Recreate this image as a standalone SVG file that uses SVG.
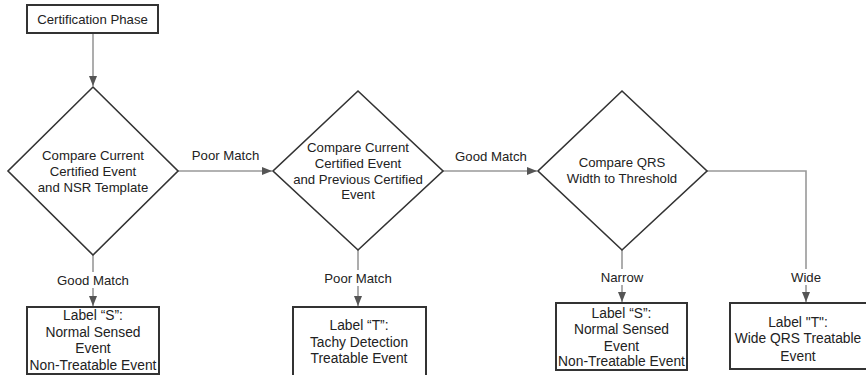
<svg xmlns="http://www.w3.org/2000/svg" width="866" height="375" viewBox="0 0 866 375">
<style>
.box{fill:#fff;stroke:#333;stroke-width:2}
.dia{fill:#fff;stroke:#333;stroke-width:1.6}
.con{fill:none;stroke:#999;stroke-width:1.6}
text{font-family:"Liberation Sans",Arial,sans-serif;fill:#222;text-anchor:middle}
.t{font-size:13.2px}
.b{font-size:13.8px}
.lbl{font-size:13.2px}
.bg{fill:#fff}
</style>
<defs>
<marker id="ah" markerUnits="userSpaceOnUse" markerWidth="10" markerHeight="10" viewBox="0 0 10 10" refX="10" refY="5" orient="auto">
<path d="M0,1 L10,5 L0,9 Z" fill="#555"/>
</marker>
</defs>
<g id="connectors">
<line class="con" x1="93" y1="33" x2="93" y2="86" marker-end="url(#ah)"/>
<line class="con" x1="178" y1="171" x2="272" y2="171" marker-end="url(#ah)"/>
<line class="con" x1="443" y1="171" x2="537" y2="171" marker-end="url(#ah)"/>
<polyline class="con" points="707,171 806,171 806,302" marker-end="url(#ah)"/>
<line class="con" x1="622" y1="250" x2="622" y2="302" marker-end="url(#ah)"/>
<line class="con" x1="93" y1="255" x2="93" y2="306" marker-end="url(#ah)"/>
<line class="con" x1="358" y1="250" x2="358" y2="306" marker-end="url(#ah)"/>
<text class="lbl" x="225.5" y="159.5">Poor Match</text>
<text class="lbl" x="491" y="160.5">Good Match</text>
<rect class="bg" x="52" y="272" width="82" height="16"/>
<text class="lbl" x="93" y="284.5">Good Match</text>
<rect class="bg" x="324" y="270" width="68" height="16"/>
<text class="lbl" x="358" y="282.5">Poor Match</text>
<rect class="bg" x="598" y="269" width="48" height="16"/>
<text class="lbl" x="622" y="281.5">Narrow</text>
<rect class="bg" x="790" y="269" width="32" height="16"/>
<text class="lbl" x="806" y="281.5">Wide</text>
</g>
<g id="start">
<rect class="box" x="27" y="5" width="131" height="28"/>
<text class="t" x="92.5" y="24">Certification Phase</text>
</g>
<g id="compare1">
<polygon class="dia" points="93,87 178,171 93,255 8,171"/>
<text class="t" x="93" y="159.5">Compare Current</text>
<text class="t" x="93" y="175.5">Certified Event</text>
<text class="t" x="93" y="191.5">and NSR Template</text>
</g>
<g id="compare2">
<polygon class="dia" points="358,91 443,171 358,250 273,171"/>
<text class="t" x="358" y="151.5">Compare Current</text>
<text class="t" x="358" y="167.5">Certified Event</text>
<text class="t" x="358" y="183.5">and Previous Certified</text>
<text class="t" x="358" y="199">Event</text>
</g>
<g id="compare3">
<polygon class="dia" points="622,91 707,171 622,250 538,171"/>
<text class="t" x="622" y="166.5">Compare QRS</text>
<text class="t" x="622" y="182.5">Width to Threshold</text>
</g>
<g id="labelS1">
<rect class="box" x="27" y="307" width="132" height="67"/>
<text class="b" x="93" y="320">Label “S”:</text>
<text class="b" x="93" y="337">Normal Sensed</text>
<text class="b" x="93" y="353">Event</text>
<text class="b" x="93" y="370">Non-Treatable Event</text>
</g>
<g id="labelT1">
<rect class="box" x="293" y="307" width="133" height="72"/>
<text class="b" x="359" y="330">Label “T”:</text>
<text class="b" x="359" y="347">Tachy Detection</text>
<text class="b" x="359" y="363">Treatable Event</text>
</g>
<g id="labelS2">
<rect class="box" x="556" y="303" width="131" height="67"/>
<text class="b" x="621.5" y="318">Label “S”:</text>
<text class="b" x="621.5" y="334">Normal Sensed</text>
<text class="b" x="621.5" y="351">Event</text>
<text class="b" x="621.5" y="366">Non-Treatable Event</text>
</g>
<g id="labelT2">
<rect class="box" x="730" y="303" width="140" height="66"/>
<text class="b" x="798" y="327">Label "T":</text>
<text class="b" x="798" y="343">Wide QRS Treatable</text>
<text class="b" x="798" y="361">Event</text>
</g>
</svg>
